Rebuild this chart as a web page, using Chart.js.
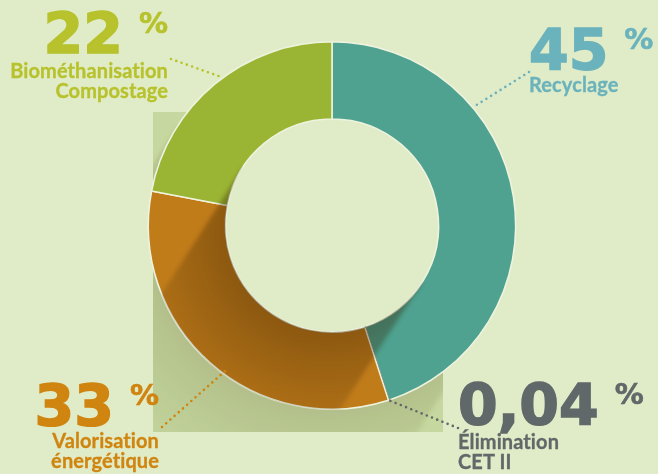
<!DOCTYPE html>
<html lang="fr">
<head>
<meta charset="utf-8">
<script src="https://cdn.jsdelivr.net/npm/chart.js@4/dist/chart.umd.min.js"></script>
<style>
  html, body { margin: 0; padding: 0; background: #e0ebc8; }
  #wrap { position: relative; width: 658px; height: 474px; overflow: hidden; }
  #chart { position: absolute; left: 0; top: 0; }
  .lbl { position: absolute; }
  .lbl.right { text-align: right; }
  .row { display: flex; align-items: flex-start; }
  .right .row { justify-content: flex-end; }
  .num { font-family: "DejaVu Sans", sans-serif; font-size: 57px; font-weight: 700; line-height: 60px;
         letter-spacing: 0; -webkit-text-stroke: 1.5px currentColor; position: relative; top: 2px; }
  .pct { font-family: "DejaVu Sans", sans-serif; font-size: 29px; font-weight: 700; line-height: 30px;
         margin-left: 16px; margin-top: 6px; -webkit-text-stroke: 0.6px currentColor; }
  .cap { font-family: Lato, "Open Sans", sans-serif; font-size: 20px; font-weight: 700; line-height: 20px;
         letter-spacing: 0.1px; -webkit-text-stroke: 0.3px currentColor; }
</style>
</head>
<body>
<div id="wrap">
  <canvas id="chart" width="658" height="474"></canvas>
</div>
<script>
// data, clockwise from 12 o'clock
const categories = ["Recyclage", "Élimination CET II", "Valorisation énergétique", "Biométhanisation Compostage"];
const shares     = [45, 0.04, 33, 22];
const captions   = [["Recyclage"], ["Élimination", "CET II"], ["Valorisation", "énergétique"], ["Biométhanisation", "Compostage"]];

// styles
const sliceColors = ["#4ea28f", "#5d6566", "#c17c1a", "#9ab533"];
const textColors  = ["#6bb3bc", "#616869", "#cf850f", "#b7c22c"];
const bgColor = "#e0ebc8";
const panel = { x: 153, y: 112, w: 290, h: 320, color: "#c6d89f" };

// label placement: block box, alignment, leader line (anchor angle from 12 o'clock, radius factor, end point)
const labelLayout = [
  { left: 529, top: 18, align: "left", capGap: -4, angle: 50, rf: 1.0, end: [529, 72] },
  { left: 458, top: 373, align: "left", capGap: -2, angle: null, rf: 1.0, end: [458, 428] },
  { right: 159, top: 374, align: "right", capGap: -4, angle: 216, rf: 0.96, end: [162, 427] },
  { right: 168, top: 2, align: "right", capGap: -2, angle: 323.6, rf: 1.0, end: [171, 59] }
];

function fmtShare(v) {
  return String(v).replace(".", ",");
}

// soft long shadow swept from a circle toward bottom-left
function castShadow(ctx, cx, cy, r, alpha, len) {
  const dx = -0.54, dy = 0.84;
  const nx = -dy, ny = dx;
  const far = r + len + 400;
  const ox = cx + dx * 8, oy = cy + dy * 8;
  const g = ctx.createRadialGradient(ox, oy, r - 4, ox, oy, r + len);
  g.addColorStop(0, "rgba(50,28,0," + alpha + ")");
  g.addColorStop(0.45, "rgba(50,28,0," + (alpha * 0.5) + ")");
  g.addColorStop(1, "rgba(50,28,0,0)");
  ctx.filter = "blur(2px)";
  ctx.fillStyle = g;
  ctx.beginPath();
  ctx.moveTo(cx + nx * r, cy + ny * r);
  ctx.lineTo(cx + nx * r + dx * far, cy + ny * r + dy * far);
  ctx.lineTo(cx - nx * r + dx * far, cy - ny * r + dy * far);
  ctx.lineTo(cx - nx * r, cy - ny * r);
  ctx.closePath();
  ctx.fill();
  ctx.filter = "none";
}

const decor = {
  id: "decor",
  beforeDatasetsDraw(chart) {
    const ctx = chart.ctx;
    const a = chart.getDatasetMeta(0).data[0];
    ctx.save();
    ctx.fillStyle = panel.color;
    ctx.fillRect(panel.x, panel.y, panel.w, panel.h);
    ctx.beginPath();
    ctx.rect(panel.x, panel.y, panel.w, panel.h);
    ctx.clip();
    castShadow(ctx, a.x, a.y, a.outerRadius, 0.12, 110);
    ctx.restore();
    // hole shows the page colour
    ctx.save();
    ctx.fillStyle = bgColor;
    ctx.beginPath();
    ctx.arc(a.x, a.y, a.innerRadius + 1, 0, Math.PI * 2);
    ctx.fill();
    ctx.restore();
  },
  afterDatasetsDraw(chart) {
    const ctx = chart.ctx;
    const arcs = chart.getDatasetMeta(0).data;
    const a = arcs[0];
    ctx.save();
    ctx.beginPath();
    ctx.arc(a.x, a.y, a.outerRadius + 0.5, 0, Math.PI * 2);
    ctx.arc(a.x, a.y, a.innerRadius, 0, Math.PI * 2, true);
    ctx.clip();
    castShadow(ctx, a.x, a.y, a.innerRadius, 0.36, 130);
    ctx.restore();

    // dotted leader lines
    arcs.forEach((arc, i) => {
      const L = labelLayout[i];
      let ang;
      if (L.angle === null) ang = (arc.startAngle + arc.endAngle) / 2;
      else ang = (L.angle - 90) * Math.PI / 180;
      const r = arc.outerRadius * L.rf;
      const sx = arc.x + Math.cos(ang) * r;
      const sy = arc.y + Math.sin(ang) * r;
      ctx.save();
      ctx.strokeStyle = textColors[i];
      ctx.lineWidth = 2.6;
      ctx.lineCap = "round";
      ctx.setLineDash([0, 5.6]);
      ctx.beginPath();
      ctx.moveTo(L.end[0], L.end[1]);
      ctx.lineTo(sx, sy);
      ctx.stroke();
      ctx.restore();
    });
  }
};

function buildLabels() {
  const wrap = document.getElementById("wrap");
  categories.forEach((cat, i) => {
    const L = labelLayout[i];
    const box = document.createElement("div");
    box.className = "lbl" + (L.align === "right" ? " right" : "");
    box.style.top = L.top + "px";
    if (L.align === "right") box.style.right = (658 - L.right) + "px";
    else box.style.left = L.left + "px";
    box.style.color = textColors[i];
    box.innerHTML =
      '<div class="row"><span class="num">' + fmtShare(shares[i]) + '</span><span class="pct">%</span></div>' +
      '<div class="cap" style="margin-top:' + L.capGap + 'px">' + captions[i].join("<br>") + "</div>";
    box.title = cat;
    wrap.appendChild(box);
  });
}

const ctx = document.getElementById("chart").getContext("2d");
new Chart(ctx, {
  type: "doughnut",
  data: {
    labels: categories,
    datasets: [{
      data: shares,
      backgroundColor: sliceColors,
      borderColor: ["#eef3de", "#4f5657", "#eef3de", "#eef3de"],
      borderWidth: 1.6,
      hoverOffset: 0
    }]
  },
  options: {
    responsive: false,
    animation: false,
    cutout: "58%",
    layout: { padding: { left: 147, right: 141, top: 41, bottom: 64 } },
    plugins: { legend: { display: false }, tooltip: { enabled: false } }
  },
  plugins: [decor]
});

buildLabels();
</script>
</body>
</html>
